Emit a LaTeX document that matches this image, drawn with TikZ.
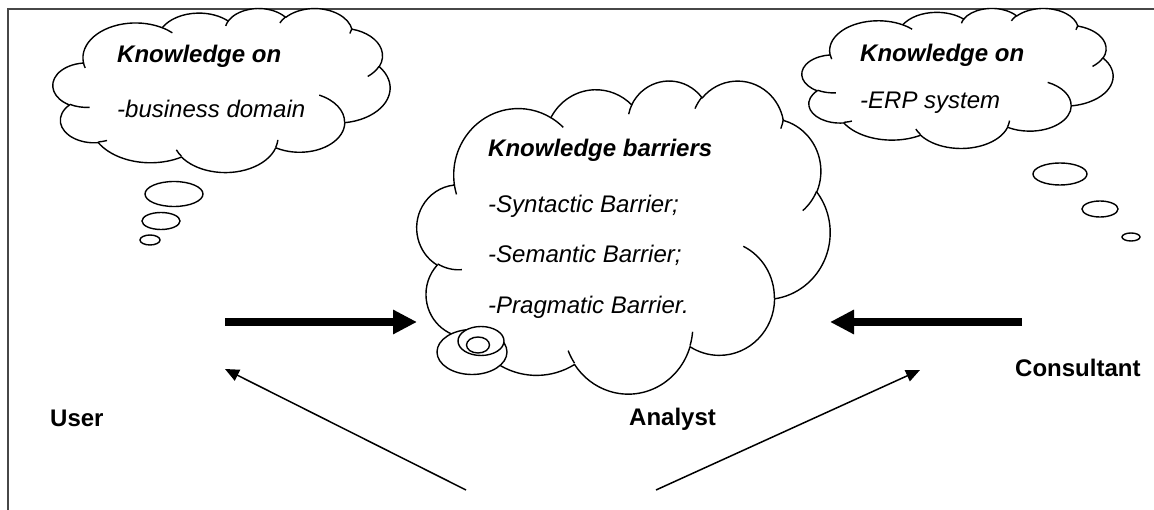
\documentclass[tikz,border=0pt]{standalone}
\usepackage{fontspec}
\setmainfont{Liberation Sans}
\usetikzlibrary{arrows.meta,shapes.geometric}

% Word-style cloud: #1,#2 = top-left corner, #3,#4 = width/432, height/432 (pt)
\newcommand\wcloud[4]{%
 \begin{scope}[shift={(#1,#2)}, x=#3pt, y=-#4pt]
  \draw[cloudline, fill=white] (39.00,143.70)
   \foreach \cra/\crb/\cst/\csw
    [evaluate=\cst as \cta using {atan2(\cra*sin(\cst),\crb*cos(\cst))},
     evaluate=\cst as \ctb using {atan2(\cra*sin(\cst+\csw),\crb*cos(\cst+\csw))},
     evaluate=\ctb as \ctd using {mod(\ctb-\cta+720,360)}]
    in {67.53/91.90/-190.487/123.781, 53.33/72.67/-144.102/89.945,
        43.65/59.45/-145.808/99.723, 48.57/65.95/-130.986/117.242,
        53.33/72.73/-78.709/109.027, 67.75/92.20/-46.267/130.269,
        57.85/78.67/0.625/114.033, 67.52/92.15/22.452/115.173,
        77.20/105.43/66.243/75.711, 43.60/59.18/-274.942/146.736,
        43.45/59.45/-246.829/152.519}
    { arc[x radius=\cra, y radius=\crb, start angle=\cta, delta angle=\ctd] } -- cycle;
  \draw[cloudline]
   \foreach \cpx/\cpy/\cra/\crb/\cst/\csw
    [evaluate=\cst as \cta using {atan2(\cra*sin(\cst),\crb*cos(\cst))},
     evaluate=\cst as \ctb using {atan2(\cra*sin(\cst+\csw),\crb*cos(\cst+\csw))},
     evaluate=\ctb as \ctd using {mod(\ctb-\cta+720,360)}]
    in {46.93/261.77/43.45/59.45/86.742/26.430,
        69.28/348.99/43.60/59.18/73.610/11.447,
        164.78/390.90/67.52/92.15/137.624/14.081,
        288.27/347.51/67.52/92.15/6.453/15.998,
        341.29/229.54/57.85/78.67/-70.292/70.917,
        417.98/153.54/53.33/72.73/30.318/27.752,
        383.24/54.26/48.57/65.95/13.744/14.859,
        290.78/39.52/48.57/65.95/-149.181/18.195,
        221.41/47.20/43.65/59.45/-163.494/17.686,
        140.00/51.92/67.53/91.90/-66.707/12.319,
        41.27/157.89/67.53/91.90/157.654/11.858}
    { (\cpx,\cpy) arc[x radius=\cra, y radius=\crb, start angle=\cta, delta angle=\ctd] };
 \end{scope}}

\begin{document}
\begin{tikzpicture}[x=1pt,y=-1pt,
  cloudline/.style={line width=1.4pt, line join=round},
  bubble/.style={ellipse, draw, line width=1.4pt, fill=white, inner sep=0pt},
  head/.style={font=\bfseries\itshape\fontsize{24}{28}\selectfont, anchor=base west, inner sep=0pt},
  item/.style={font=\itshape\fontsize{24}{28}\selectfont, anchor=base west, inner sep=0pt},
  role/.style={font=\bfseries\fontsize{24}{28}\selectfont, anchor=base west, inner sep=0pt},
  bigarrow/.style={line width=8.5pt, -{Triangle[length=24pt,width=23pt]}},
  thinarrow/.style={line width=1.5pt, -{Triangle[length=14pt,width=12pt]}},
  frameline/.style={line width=1.6pt, draw=black!72}]
\useasboundingbox (0,0) rectangle (1154,510);
\fill[white] (0,0) rectangle (1154,510);

% frame
\draw[frameline] (8,510) -- (8,9) -- (1154,9);

% clouds
\wcloud{53}{8}{0.78009}{0.37963}
\wcloud{417}{80}{0.95602}{0.72454}
\wcloud{802}{8}{0.71991}{0.32407}

% thought bubbles (left)
\node[bubble, minimum width=58pt, minimum height=25pt] (lb1) at (174,194) {};
\node[bubble, minimum width=38pt, minimum height=17pt] (lb2) at (161,221) {};
\node[bubble, minimum width=20pt, minimum height=10pt] (lb3) at (150,240) {};
% thought bubbles (right)
\node[bubble, minimum width=54pt, minimum height=22pt] (rb1) at (1060,174) {};
\node[bubble, minimum width=36pt, minimum height=16pt] (rb2) at (1100,209) {};
\node[bubble, minimum width=18pt, minimum height=8pt] (rb3) at (1131,237) {};
% bubbles of the middle cloud
\node[bubble, minimum width=70pt, minimum height=45pt] (mb1) at (472,352) {};
\node[bubble, minimum width=46pt, minimum height=29pt] (mb2) at (481,341) {};
\node[bubble, minimum width=23pt, minimum height=16pt] (mb3) at (478,345) {};

% texts
\node[head] (lk) at (117,63) {Knowledge on};
\node[item] (ld) at (117,118) {-business domain};
\node[head] (rk) at (860,62) {Knowledge on};
\node[item] (re) at (860,109) {-ERP system};
\node[head] (mk) at (488,157) {Knowledge barriers};
\node[item] (m1) at (488,213) {-Syntactic Barrier;};
\node[item] (m2) at (488,263) {-Semantic Barrier;};
\node[item] (m3) at (488,314) {-Pragmatic Barrier.};

\node[role] (user) at (50,426) {User};
\node[role] (analyst) at (629,425) {Analyst};
\node[role] (consultant) at (1015,377) {Consultant};

% arrows
\coordinate (ls) at (225,322);
\coordinate (lt) at (417,322);
\coordinate (rs) at (1022,322);
\coordinate (rt) at (830,322);
\draw[bigarrow] (ls) -- (lt);
\draw[bigarrow] (rs) -- (rt);

\coordinate (a1) at (466,490);
\coordinate (a1t) at (225,369);
\coordinate (a2) at (656,490);
\coordinate (a2t) at (920,370);
\draw[thinarrow] (a1) -- (a1t);
\draw[thinarrow] (a2) -- (a2t);
\end{tikzpicture}
\end{document}
